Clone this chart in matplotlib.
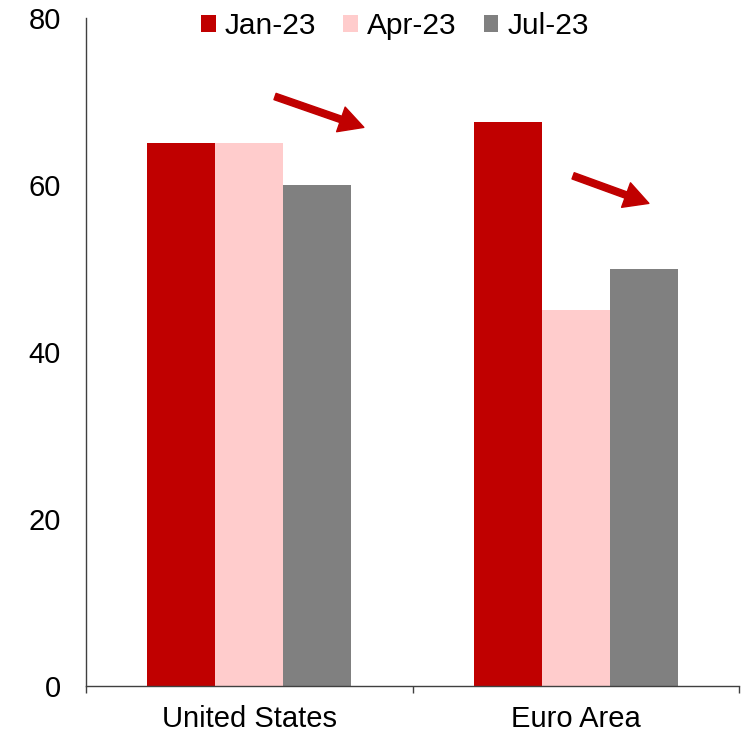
import matplotlib
matplotlib.use("Agg")
import matplotlib.pyplot as plt
import numpy as np

categories = ["United States", "Euro Area"]
series_names = ["Jan-23", "Apr-23", "Jul-23"]
jan23 = [65, 67.5]
apr23 = [65, 45]
jul23 = [60, 50]
colors = ["#C00000", "#FFCCCC", "#808080"]
y_ticks = [0, 20, 40, 60, 80]
# arrows: (x_tail, y_tail, x_head, y_head) in data coords
arrows = [(0.079, 70.6, 0.351, 66.9), (0.992, 61.1, 1.224, 57.8)]

plt.rcParams['font.family'] = ['Liberation Sans', 'DejaVu Sans']

fig = plt.figure(figsize=(7.44, 7.34), dpi=100)
ax = fig.add_axes([86/744, 1-686/734, (739-86)/744, (686-18)/734])

x = np.arange(len(categories))
w = 0.208
for i, (vals, name, c) in enumerate(zip([jan23, apr23, jul23], series_names, colors)):
    ax.bar(x + (i-1)*w, vals, width=w, color=c, label=name, edgecolor='none')

ax.set_xlim(-0.5, 1.5)
ax.set_ylim(0, 80)
ax.set_yticks(y_ticks)
ax.set_yticklabels([str(v) for v in y_ticks], fontsize=21)
ax.tick_params(axis='y', length=0, pad=18)
ax.set_xticks(x)
ax.set_xticklabels(categories, fontsize=21)
ax.tick_params(axis='x', which='major', length=0, pad=14)
ax.set_xticks([-0.5, 0.5, 1.5], minor=True)
ax.tick_params(axis='x', which='minor', length=5, width=1, color='#404040', direction='out')

for s in ['top', 'right']:
    ax.spines[s].set_visible(False)
for s in ['left', 'bottom']:
    ax.spines[s].set_color('#404040')
    ax.spines[s].set_linewidth(1)

for (x0, y0, x1, y1) in arrows:
    ax.annotate('', xy=(x1, y1), xytext=(x0, y0),
                arrowprops=dict(arrowstyle='simple,head_length=0.7,head_width=0.75,tail_width=0.19',
                                color='#C00000', mutation_scale=25, shrinkA=0, shrinkB=0))

leg = ax.legend(loc='center', bbox_to_anchor=(0.473, 0.988), ncol=3, frameon=False,
                fontsize=21.5, handlelength=0.5, handleheight=0.5, handletextpad=0.3,
                columnspacing=0.9, borderaxespad=0, borderpad=0)

fig.savefig("out.png", dpi=100)
